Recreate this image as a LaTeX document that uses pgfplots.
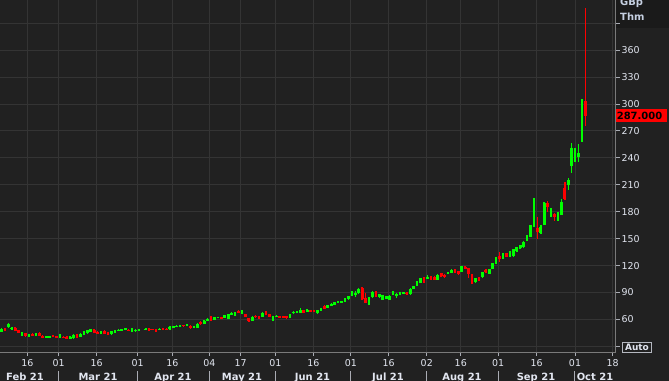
\documentclass[border=0pt]{standalone}
\usepackage{pgfplots}
\pgfplotsset{compat=1.18}
\usepackage{pgfplotstable}
\usepackage{fontspec}
\setmainfont{DejaVu Sans}
\definecolor{bg}{HTML}{212121}
\definecolor{hdr}{HTML}{1A1A1A}
\definecolor{gridc}{HTML}{343434}
\definecolor{axc}{HTML}{7A7A7A}
\definecolor{txt}{HTML}{E2E6F0}
\definecolor{hdrtxt}{HTML}{C5CFE0}
\definecolor{cup}{HTML}{00FF00}
\definecolor{cdn}{HTML}{FF0000}

\pgfplotstableread{
k o h l c
0 46.5 50.2 45.7 49.4
2 51.6 56.5 50.9 55.0
3 49.6 52 48 50.5
6 43.5 46.5 42 45.7
8 41.8 43.9 40.1 42.4
10 42 45.5 41.5 45
13 40.1 42 39.8 41.6
14 40.3 42 40 41.6
17 40.1 43.5 39.8 42.4
20 38.6 41.3 38.3 40.9
21 39.4 43.5 38.3 42.7
23 40.9 44.6 40.5 44.2
24 43.5 47 43.1 46.5
25 45.3 48.3 44.2 47.9
26 46.5 49.6 46.1 49.1
29 43.9 47 43.5 46.5
32 43.5 47.2 43.1 46.8
33 45.7 48.3 45.3 47.9
34 47.9 49.8 46.8 48.6
35 47.9 49.8 47.6 49.4
36 48.3 50.6 47.9 50.2
38 46.8 50.2 46.4 49.8
39 47.9 49.5 46.5 48.4
40 47.8 49 47.2 48.3
42 49.1 50.1 48.8 49.8
46 48.7 50.6 48.3 49.5
49 50.5 52.5 48.5 51
50 51.3 52.8 51 52.4
51 52 53.5 51.6 53.1
52 52.8 54.2 52.4 53.5
54 53.1 55.4 52.8 55
56 50.9 53.1 50.5 52.8
57 50.9 55.8 50.5 55.4
59 55.4 59.1 55 58.7
60 58.7 61.3 58.3 60.9
62 59.8 63.2 59.4 62.8
63 61.7 63.2 61.3 62.8
65 61.7 65.4 61.3 65
66 60.9 66.5 60.5 66.1
67 66.1 68 65 66.9
68 64.3 68 63.9 67.6
70 66.9 70.2 66.5 69.8
73 58.7 63.6 58.3 63.2
76 63.2 68 62.8 67.6
79 60.6 63.9 58.3 62.1
80 62.8 64.7 62.4 64.3
84 62.1 66.2 61.7 65.8
85 66.9 69.1 66.5 68.7
86 67.6 69.9 67.2 69.5
87 67.6 72.5 67.2 70.9
89 69.1 71.3 68.7 70.9
92 66.9 71 66.5 70.6
93 70.2 73.2 69.8 72.8
95 73.2 76.5 72.8 76.1
96 75 78 74.6 77.6
97 76.1 79.5 75.7 79.1
98 79.1 81 78.7 80.6
99 79.3 81 79 80.6
100 79.5 83.6 79.1 83.2
101 82.5 86.6 82.1 86.2
102 86.9 92.1 86.5 90.6
103 88.4 92.1 85.4 89.1
104 89.1 95.5 88.7 94.3
107 79.9 85.4 76.1 83.6
108 84.7 91.4 84.3 91
110 84.7 88.8 83.6 88
111 81.7 87.7 81.3 87.3
112 82.8 86.2 82.4 85.8
113 82.1 86.9 81.7 86.5
114 88 91.7 87.3 89.8
115 86.2 89.2 84.3 88.8
116 87.3 90.6 86.9 90.2
117 88.4 90.6 88 90.2
119 88 94.7 87.6 94.3
120 94 97.7 93.6 97.3
121 97.3 102.5 96.9 102.1
122 101 106.2 100.6 105.8
124 105.8 109.5 105.4 107.7
127 104.3 110.3 103.9 109.9
130 111.5 112.6 111 112.2
131 111.8 115.9 111.4 115.5
134 113.3 120 112.9 119.6
138 101.4 106.2 101 105.8
140 107 112.9 106.6 112.5
142 111 116.6 110.6 116.2
143 116.2 122.9 115.8 122.5
144 122.5 129.6 122.1 129.2
146 128.1 133.7 127.7 133.3
148 130 136.6 129.6 134.8
149 130.3 138.5 129.9 138.1
150 135.9 140.7 135.5 140.3
151 139.2 143.3 138.8 142.9
152 140.3 147 139.9 146.6
153 147.4 154.5 147 154.1
154 152.2 165.6 151.8 165.2
155 167 195.6 163.3 178.2
157 156.6 165.2 155.2 163.3
158 165.2 191 164.8 190.1
160 179.6 184.5 174.5 181.9
162 170.8 179.4 170 176.3
163 176.4 194.2 176 191.2
165 209.4 217.2 204.2 215.3
166 231.3 256.9 223.5 250.6
167 240.4 250.6 235.7 241.4
168 240.6 255.4 235.7 245
169 260.6 305.5 258 294.4
}\up

\pgfplotstableread{
k o h l c
1 50.2 51 47 47.6
4 50.9 51.5 47 47.6
5 47.9 48.5 44.5 45.0
7 45 45.3 40.5 41.6
9 44.2 44.8 41.5 42
11 45.3 46 41.2 41.6
12 42 42.5 39.6 40.1
15 42.4 42.8 40.1 40.5
16 41.3 41.6 39.2 39.8
18 40.9 41.3 39.4 39.8
19 40.9 41.3 38.5 39
22 43.1 43.5 39.8 40.1
27 48.3 49.8 44.6 45.3
28 45.7 46.8 43.5 45
30 47.6 48 43.9 44.2
31 45.7 46.1 43.1 43.5
37 48.7 49.1 47.5 47.9
43 49.8 50.2 47.6 48
44 49.4 49.8 48.3 48.7
45 49.1 49.5 46 46.8
47 50.1 50.5 48.8 49.1
48 49.9 50.3 48.7 49
53 53.9 54.2 52.4 52.8
55 53.1 53.5 49.8 51.3
58 56.8 58.3 54.2 54.6
61 63.2 64.3 58.3 58.7
64 62.8 63.2 60.2 60.6
69 69.8 70.9 67.6 68
71 66.1 66.5 62.8 63.2
72 61.3 61.7 57.5 57.9
74 64.3 65 61.3 62.4
75 63.9 64.3 60.5 60.9
77 68.3 69.1 65.4 66.5
78 65.8 66.2 62.8 63.2
81 63.9 64.3 61.7 62.1
82 63.9 64.3 62 62.4
83 63.9 64.3 60.2 62.1
88 70.2 70.6 67.2 67.6
90 70.2 70.6 68.3 68.7
91 69.8 70.2 68.3 68.7
94 75.4 75.8 71.3 71.7
105 94.7 96 82 82.5
106 83.6 89.1 78 78.7
109 91 91.7 85 85.4
118 89.9 90.2 87.6 88
123 106.6 107 101 102.9
125 108.4 108.8 103.9 104.3
126 107.7 108.1 103.9 104.3
128 111.4 112.1 107.3 108.8
129 110 110.3 106.6 107
132 116.2 116.6 111.8 112.2
133 114 114.4 109.9 110.3
135 118.8 119.9 115.8 116.2
136 117 117.4 105.8 111
137 110.6 111 99.1 99.5
139 107 107.4 102.5 102.9
141 115.5 116 112.1 112.5
145 131 135.5 124.5 127.3
147 133.7 134.1 129.6 130
156 161.5 174.5 149.6 157.4
159 189.3 192.3 179.6 185.2
161 177.4 178 170 173.7
164 206.8 213.5 193 194.2
170 303.3 406.4 275.5 287
}\dn

\begin{document}
\begin{tikzpicture}
\fill[bg] (0,0) rectangle (669bp,381bp);
\fill[hdr] (615.5bp,353bp) rectangle (669bp,381bp);
\begin{axis}[
  at={(0bp,29bp)}, anchor=south west, scale only axis,
  width=615.5bp, height=352bp,
  xmin=-0.437, xmax=178.75, ymin=23.82, ymax=415.67,
  axis x line*=bottom, axis y line*=right,
  axis line style={draw=axc, line width=0.8bp},
  tick align=outside, major tick length=4bp,
  major tick style={draw=txt!75!black, line width=0.8bp},
  grid=major, major grid style={draw=gridc, line width=0.8bp},
  xtick={7.51,16.65,27.71,39.65,49.73,60.5,69.6,79.7,90.8,101.7,112.7,123.8,133.7,144.6,155.8,166.96,177.9},
  xticklabels={16,01,16,01,16,04,17,01,16,01,16,02,16,01,16,01,18},
  ytick={30,60,90,120,150,180,210,240,270,300,330,360,390},
  yticklabels={{},60,90,120,150,180,210,240,270,300,330,360,{}},
  xticklabel style={font=\fontsize{9.5}{11}\selectfont, text=txt, inner sep=0pt, anchor=north, yshift=-3bp},
  yticklabel style={font=\fontsize{9.5}{11}\selectfont, text=txt, inner sep=0pt, anchor=west, xshift=2bp},
  clip=true,
]
% wicks
\addplot[draw=none, mark=none, error bars/.cd, y dir=both, y explicit, error mark=none,
  error bar style={draw=cup, line width=1.5bp}]
  table[x=k, y expr={(\thisrow{h}+\thisrow{l})/2}, y error expr={(\thisrow{h}-\thisrow{l})/2}] {\up};
\addplot[draw=none, mark=none, error bars/.cd, y dir=both, y explicit, error mark=none,
  error bar style={draw=cdn, line width=1.5bp}]
  table[x=k, y expr={(\thisrow{h}+\thisrow{l})/2}, y error expr={(\thisrow{h}-\thisrow{l})/2}] {\dn};
% bodies
\addplot[draw=none, mark=none, error bars/.cd, y dir=both, y explicit, error mark=none,
  error bar style={draw=cup, line width=2.7bp}]
  table[x=k, y expr={(\thisrow{o}+\thisrow{c})/2}, y error expr={max(abs(\thisrow{c}-\thisrow{o})/2,0.5)}] {\up};
\addplot[draw=none, mark=none, error bars/.cd, y dir=both, y explicit, error mark=none,
  error bar style={draw=cdn, line width=2.7bp}]
  table[x=k, y expr={(\thisrow{o}+\thisrow{c})/2}, y error expr={max(abs(\thisrow{c}-\thisrow{o})/2,0.5)}] {\dn};
\end{axis}
% header
\node[anchor=base west, inner sep=0pt, text=hdrtxt, font=\bfseries\fontsize{10}{12}\selectfont] at (620bp,375.5bp) {GBp};
\node[anchor=base west, inner sep=0pt, text=hdrtxt, font=\bfseries\fontsize{10}{12}\selectfont] at (620bp,360.3bp) {Thm};
% last price
\fill[cdn] (616bp,259.2bp) rectangle (667bp,271.5bp);
\node[anchor=center, inner sep=0pt, text=black, font=\bfseries\fontsize{10}{12}\selectfont] at (639.5bp,265.4bp) {287.000};
% auto box
\node[draw=txt!80!black, fill=bg, line width=0.8bp, text=txt, inner sep=0pt, minimum width=29bp, minimum height=10bp,
  font=\bfseries\fontsize{9}{10}\selectfont] at (637bp,34bp) {Auto};
% month row
\foreach \sx in {58.3,137.3,209.3,275.3,350.7,426.7,498.3,574.3}
  \draw[txt!75!black, line width=0.8bp] (\sx bp,0bp) -- (\sx bp,10bp);
\foreach \mx/\mn in {25/Feb 21,98/Mar 21,173/Apr 21,242/May 21,312.5/Jun 21,388/Jul 21,462/Aug 21,536/Sep 21,595/Oct 21}
  \node[anchor=base, inner sep=0pt, text=txt, font=\bfseries\fontsize{10}{12}\selectfont] at (\mx bp,1bp) {\mn};
\pgfresetboundingbox
\path[use as bounding box] (0,0) rectangle (669bp,381bp);
\end{tikzpicture}
\end{document}
